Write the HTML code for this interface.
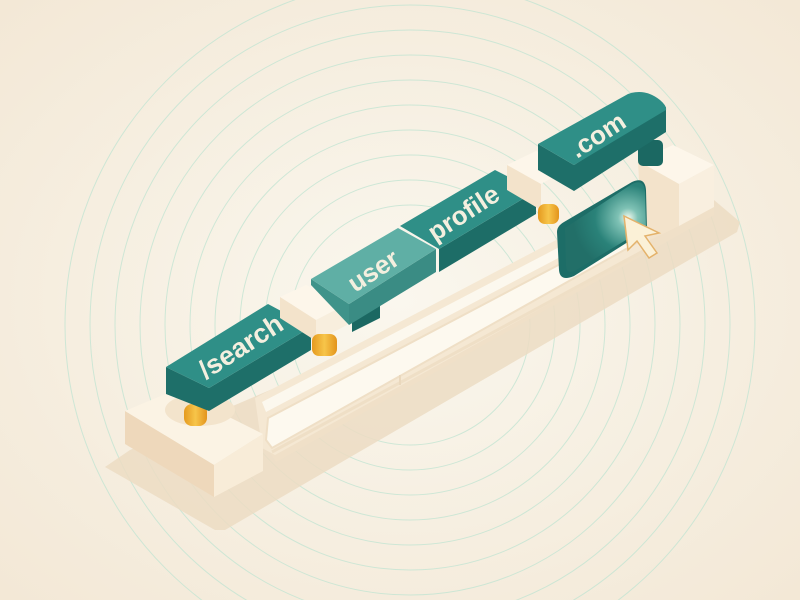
<!DOCTYPE html>
<html><head><meta charset="utf-8"><style>
html,body{margin:0;padding:0;width:800px;height:600px;overflow:hidden;background:#f6efe1}
svg{display:block;position:absolute;left:0;top:0}
</style></head><body>
<svg width="800" height="600" viewBox="0 0 800 600" xmlns="http://www.w3.org/2000/svg">
<defs>
<radialGradient id="bg" cx="50%" cy="50%" r="70%">
<stop offset="0" stop-color="#faf7ee"/><stop offset="1" stop-color="#f3e8d6"/>
</radialGradient>
<radialGradient id="glow" cx="628" cy="218" r="55" gradientUnits="userSpaceOnUse">
<stop offset="0" stop-color="#f4fbef"/><stop offset="0.18" stop-color="#7fc2b5"/><stop offset="0.6" stop-color="#2a8279"/><stop offset="1" stop-color="#226f68"/>
</radialGradient>
<linearGradient id="cyl" x1="0" x2="1"><stop offset="0" stop-color="#e59a1f"/><stop offset="0.5" stop-color="#f7c54a"/><stop offset="1" stop-color="#e3941c"/></linearGradient>
</defs>
<rect width="800" height="600" fill="url(#bg)"/>
<g fill="none" stroke="#c4e5d3" stroke-width="1" opacity="0.8">
<circle cx="410" cy="325" r="120"/><circle cx="410" cy="325" r="145"/><circle cx="410" cy="325" r="170"/>
<circle cx="410" cy="325" r="195"/><circle cx="410" cy="325" r="220"/><circle cx="410" cy="325" r="245"/>
<circle cx="410" cy="325" r="270"/><circle cx="410" cy="325" r="295"/><circle cx="410" cy="325" r="320"/>
<circle cx="410" cy="325" r="345"/>
</g>
<!-- shadow -->
<polygon points="105,467 130,450 714,200 740,222 737,232 225,530 215,530" fill="#ecdcc3" opacity="0.85"/>
<!-- base floor of rail -->
<polygon points="262,440 714,200 714,215 276,462" fill="#f0e0c8"/>
<!-- rail -->
<polygon points="255,398 640,196 650,205 650,248 275,455 262,448" fill="#f5e8d3"/>
<polygon points="262,402 640,205 640,215 266,412" fill="#fcf8ee"/>
<polygon points="268,418 640,222 642,240 272,448 266,440" fill="#fdf9ef" stroke="#efdfc6" stroke-width="2"/>
<line x1="272" y1="452" x2="645" y2="250" stroke="#efdfc6" stroke-width="3"/>
<line x1="400" y1="375" x2="400" y2="385" stroke="#ead8bd" stroke-width="2"/>
<!-- left block -->
<polygon points="125,411 175,390 263,434 214,465" fill="#fbf3e4"/>
<ellipse cx="200" cy="410" rx="35" ry="16" fill="#f3e4cc"/>
<polygon points="125,411 214,465 214,497 125,444" fill="#eed8bb"/>
<polygon points="214,465 263,434 263,471 214,497" fill="#f8ecd8"/>
<rect x="184" y="404" width="23" height="22" rx="8" fill="url(#cyl)"/>
<!-- /search key -->
<polygon points="166,367 209,388 311,327 311,350 209,411 166,394" fill="#1e6f69"/>
<polygon points="166,367 268,304 311,327 209,388" fill="#2f8f87"/>
<text x="0" y="0" transform="translate(206,380) rotate(-33)" font-family="Liberation Sans, sans-serif" font-size="27" font-weight="bold" fill="#f4efdf">/search</text>
<!-- connector A -->
<polygon points="280,297 306,285 347,304 316,320" fill="#fdf6ea"/>
<polygon points="280,297 316,320 316,341 280,318" fill="#f3e3cb"/>
<polygon points="316,320 347,304 347,325 316,341" fill="#f8eedd"/>
<rect x="312" y="334" width="25" height="22" rx="7" fill="url(#cyl)"/>
<!-- user key -->
<polygon points="352,310 380,296 380,318 352,332" fill="#1b6862"/>
<polygon points="311,279 349,304 349,325 311,285" fill="#3f938a"/>
<polygon points="349,304 436,249 436,272 349,325" fill="#3a8c84"/>
<polygon points="311,279 398,228 436,249 349,304" fill="#5fafa5"/>
<text x="0" y="0" transform="translate(355,293) rotate(-33)" font-family="Liberation Sans, sans-serif" font-size="26" font-weight="bold" fill="#f4efdf">user</text>
<!-- profile key -->
<polygon points="439,249 536,191 536,214 439,272" fill="#1d6d67"/>
<polygon points="400,226 495,170 536,191 439,249" fill="#2f8f87"/>
<text x="0" y="0" transform="translate(435,242) rotate(-33)" font-family="Liberation Sans, sans-serif" font-size="26" font-weight="bold" fill="#f4efdf">profile</text>
<!-- connector B -->
<polygon points="507,165 536,151 574,165 541,184" fill="#fdf6ea"/>
<polygon points="507,165 541,184 541,210 507,190" fill="#f3e3cb"/>
<rect x="538" y="204" width="21" height="20" rx="7" fill="url(#cyl)"/>
<!-- right block -->
<polygon points="638,161 673,145 714,165 679,184" fill="#fdf6ea"/>
<polygon points="638,161 679,184 679,226 650,240 640,200" fill="#f3e3cb"/>
<polygon points="679,184 714,165 714,207 679,226" fill="#f9efdf"/>
<!-- .com key -->
<rect x="638" y="140" width="25" height="26" rx="5" fill="#1b6862"/>
<polygon points="538,144 574,165 574,191 538,170" fill="#1e6f69"/>
<polygon points="574,165 666,107 666,132 574,191" fill="#1e6f69"/>
<path d="M538,144 L628,94 Q645,88 660,100 Q667,106 666,110 L574,165 Z" fill="#2f8f87"/>
<text x="0" y="0" transform="translate(577,159) rotate(-33)" font-family="Liberation Sans, sans-serif" font-size="26" font-weight="bold" fill="#f4efdf">.com</text>
<!-- glowing button -->
<path d="M557,232 Q557,226 564,222 L632,182 Q645,176 646,190 L647,230 L574,276 Q560,282 559,270 Z" fill="#1d6d67"/>
<path d="M565,228 L632,184 Q644,178 645,192 L646,228 L576,270 Q566,276 566,264 Z" fill="url(#glow)"/>
<!-- cursor -->
<polygon points="624,216 628,250 637,241 649,258 657,253 645,236 659,233" fill="#fbf1d7" stroke="#e4b26b" stroke-width="1.5"/>
</svg>
</body></html>
